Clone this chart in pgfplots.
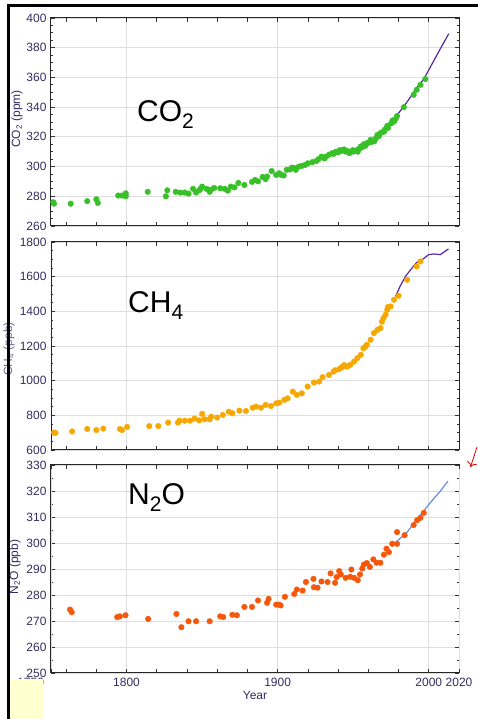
\documentclass[border=0pt]{standalone}
\usepackage{fontspec}
\setmainfont{Liberation Sans}
\usepackage{pgfplots}
\pgfplotsset{compat=1.18}
\usetikzlibrary{arrows.meta}
\definecolor{cgreen}{RGB}{55,192,40}
\definecolor{corange}{RGB}{247,168,0}
\definecolor{cred}{RGB}{245,88,10}
\definecolor{cpurple}{RGB}{85,40,165}
\definecolor{cblue}{RGB}{100,140,225}
\definecolor{tickc}{RGB}{50,45,95}
\definecolor{gridc}{RGB}{222,222,222}
\definecolor{cyellow}{RGB}{255,255,208}
\pgfplotsset{
  panel/.style={
    scale only axis, width=408pt, height=208pt,
    xmin=1750, xmax=2020,
    xtick={1760,1780,...,2000}, xticklabels={},
    extra x ticks={1800,1900,2000},
    extra x tick labels={},
    extra x tick style={grid=major},
    ymajorgrids=true,
    grid style={gridc, line width=0.8pt},
    tick align=inside,
    major tick length=4pt, minor tick length=2pt,
    tick style={black!80, line width=0.7pt},
    axis line style={black!85, line width=1pt},
    tick label style={font=\fontsize{12}{13}\selectfont, text=tickc},
    /pgf/number format/assume math mode=true,
    /pgf/number format/1000 sep={},
    yticklabel style={xshift=-1pt},
    xticklabel style={yshift=-2pt},
  },
}
\begin{document}
\begin{tikzpicture}
\path[use as bounding box] (0,0) rectangle (478pt,719pt);
% CO2
\begin{axis}[panel, at={(51pt,493pt)}, anchor=south west,
  ymin=260, ymax=400, ytick={260,280,...,400}, minor y tick num=3]
\addplot[only marks, mark=*, mark size=2.8pt, cgreen] coordinates {
(1751.5,276) (1752,275) (1763,275) (1774,276.7) (1780,278) (1781,275.5)
(1794.5,280.5) (1797,280.5) (1799.5,282) (1799.5,280) (1814,283) (1826,280) (1827,284)
(1832.5,283) (1835.6,282.5) (1838.5,282.5) (1841,281.8) (1844,285) (1846,282.5) (1848,284)
(1849,285) (1850,286.5) (1853,285) (1855,283) (1856,284.5) (1858,285.6) (1862,285.4) (1865,285)
(1867,283.8) (1869,286.5) (1871.4,286) (1874,289) (1878,287.6) (1883,289.7) (1885,291)
(1887,290) (1890,293) (1892,291.5) (1893,293.3) (1896,297) (1899,294.4) (1901,295.5) (1902,294.5)
(1904,294) (1906,297.8) (1908,298) (1909.5,299.3) (1911,299) (1912,297.8) (1914,300) (1916,300.5)
(1918,301) (1920,302.2) (1923,303) (1925.7,303.8) (1927,305) (1929,306.7) (1931,305.5) (1932,306.7)
(1934,308) (1936,309) (1937,308.5) (1938.5,310) (1940,309.5) (1941,311) (1942,310.5) (1943,311.2)
(1944,311.5) (1945,310) (1946,310.5) (1947.5,309) (1949.6,311) (1950,310) (1952,311) (1953,310)
(1954,312) (1955,313.5) (1956,313) (1957,315) (1958,314) (1959,315.7) (1960,316) (1961.5,318)
(1962,316.5) (1964,317) (1965,319) (1966,321.3) (1967,320.5) (1968,322.5) (1969,323) (1970.5,323.6)
(1971,325) (1972.5,327.4) (1973,326) (1975,329) (1976,331) (1977,330.3) (1978,332) (1979,334)
(1983.5,340) (1990,348.3) (1992,351.7) (1994.5,355) (1997.7,358.9)
};
\addplot[cpurple, line width=1.2pt] coordinates {
(1979,334.8) (1983.5,340.4) (1988,347) (1992,353) (1996.7,358.9) (2000,365) (2005,374.4) (2010,383.6) (2013.2,389.4)
};
\end{axis}
% CH4
\begin{axis}[panel, at={(51pt,269pt)}, anchor=south west,
  ymin=600, ymax=1800, ytick={600,800,...,1800}, minor y tick num=3]
\addplot[only marks, mark=*, mark size=2.8pt, corange] coordinates {
(1752,700) (1753,698) (1764,707) (1774,721) (1780,715) (1784.6,723) (1795.6,721) (1797,715) (1800.4,733)
(1815,738) (1821,738) (1827.5,758) (1834,758) (1835,769) (1838.5,769) (1842,769) (1845,781)
(1848,771) (1850,808) (1851.6,777) (1855,777) (1856,792) (1860,787) (1863.7,802) (1867.7,821)
(1870,812) (1874.7,827) (1879,825) (1883.5,844) (1885.7,850) (1889,844) (1892,860) (1895.6,854)
(1899,869) (1901,873) (1904.4,889) (1906.6,898) (1910,937) (1912.7,918) (1916,927) (1919.8,966)
(1924,989) (1927.5,995) (1929.7,1020) (1934,1033) (1937,1052) (1940.7,1066) (1943,1081)
(1946,1081) (1948,1091) (1950.5,1110) (1952.7,1130) (1955,1149) (1956.7,1187) (1959,1207)
(1961.5,1236) (1963.7,1274) (1966,1293) (1968,1303) (1970,1361) (1971.4,1380) (1972.5,1409)
(1974.7,1428) (1977,1467) (1980,1490) (1985.7,1582) (1992,1659) (1994.5,1688)
(1938,1060) (1942,1075) (1944,1090) (1958,1195) (1969,1340) (1973,1425)
};
\addplot[cpurple, line width=1.2pt] coordinates {
(1978,1486) (1981,1544) (1984.6,1602) (1988,1640) (1992,1682) (1995.6,1698) (2000,1727) (2003.3,1731) (2007.7,1727) (2013,1760)
};
\end{axis}
% N2O
\begin{axis}[panel, at={(51pt,46pt)}, anchor=south west,
  ymin=250, ymax=330, ytick={250,260,...,330}, minor y tick num=1,
  extra x ticks={1750,1800,1900,2000,2020},
  extra x tick labels={\makebox[0pt][r]{\raisebox{-2pt}{1750}\hspace{7pt}},1800,1900,2000,2020},
  extra x tick style={grid=major},
  xlabel={Year}, xlabel style={font=\fontsize{12}{13}\selectfont, text=tickc, yshift=3pt}]
\addplot[only marks, mark=*, mark size=2.8pt, cred] coordinates {
(1762.6,274.4) (1763.7,273.4) (1793.8,271.5) (1795.6,271.8) (1799.3,272.2) (1814.3,270.8)
(1833,272.7) (1836.3,267.6) (1841,269.9) (1846,269.9) (1855,269.9) (1862,271.8) (1864,271.5)
(1870,272.4) (1873,272.2) (1878,275.4) (1883,275.4) (1887,277.9) (1893,277) (1894,278.5)
(1899,276.3) (1900.7,276.3) (1902,276) (1904.8,279.3) (1911,280.4) (1912.7,282.1) (1916.5,281.7)
(1918.7,285) (1923.7,286.2) (1924,283) (1926.4,282.8) (1929,285.2) (1933,285) (1935,288.3)
(1938,284.7) (1939,286.9) (1940.7,289.2) (1941.8,287.9) (1945,286.6) (1948,287) (1948.8,289.8)
(1950.5,286.6) (1953,285.7) (1954.5,287.9) (1956,290.2) (1957,291.7) (1959,292.3) (1961,290.8)
(1963.3,293.7) (1965.5,292.4) (1968,292.4) (1970.3,295.5) (1972,297.8) (1973.6,296.5)
(1975.8,299.7) (1979,304.2) (1979,299.7) (1984,303) (1990,306.9) (1992.3,308.8) (1994.5,309.7) (1996.7,311.6)
};
\addplot[cblue, line width=1.2pt] coordinates {
(1979,300.7) (1985.7,304.2) (1992,309) (2001,315.5) (2007.7,320) (2012.7,323.8)
};
\end{axis}
% big labels
\node[anchor=base west, inner sep=0pt, font=\fontsize{30}{36}\selectfont] at (137pt,597pt)
  {CO\raisebox{-7pt}{\fontsize{21}{24}\selectfont 2}};
\node[anchor=base west, inner sep=0pt, font=\fontsize{30}{36}\selectfont] at (128pt,406pt)
  {CH\raisebox{-7pt}{\fontsize{21}{24}\selectfont 4}};
\node[anchor=base west, inner sep=0pt, font=\fontsize{30}{36}\selectfont] at (128pt,214pt)
  {N\raisebox{-7pt}{\fontsize{21}{24}\selectfont 2}O};
% y labels
\node[rotate=90, font=\fontsize{12}{13}\selectfont, text=tickc] at (17pt,600pt) {CO\textsubscript{2} (ppm)};
\node[rotate=90, font=\fontsize{12}{13}\selectfont, text=tickc!70] at (9pt,370pt) {CH\textsubscript{4} (ppb)};
\node[rotate=90, font=\fontsize{12}{13}\selectfont, text=tickc] at (15pt,152pt) {N\textsubscript{2}O (ppb)};
% frame & decorations
\fill[black] (7pt,0pt) rectangle (9.5pt,714pt);
\fill[black] (7pt,712pt) rectangle (478pt,715pt);
\fill[cyellow] (10pt,0pt) rectangle (43pt,40pt);
\draw[red!85!black, line width=0.8pt, -{To[length=5pt]}] (477pt,272pt) .. controls (474pt,262pt) .. (470.5pt,252pt);
\end{tikzpicture}
\end{document}
